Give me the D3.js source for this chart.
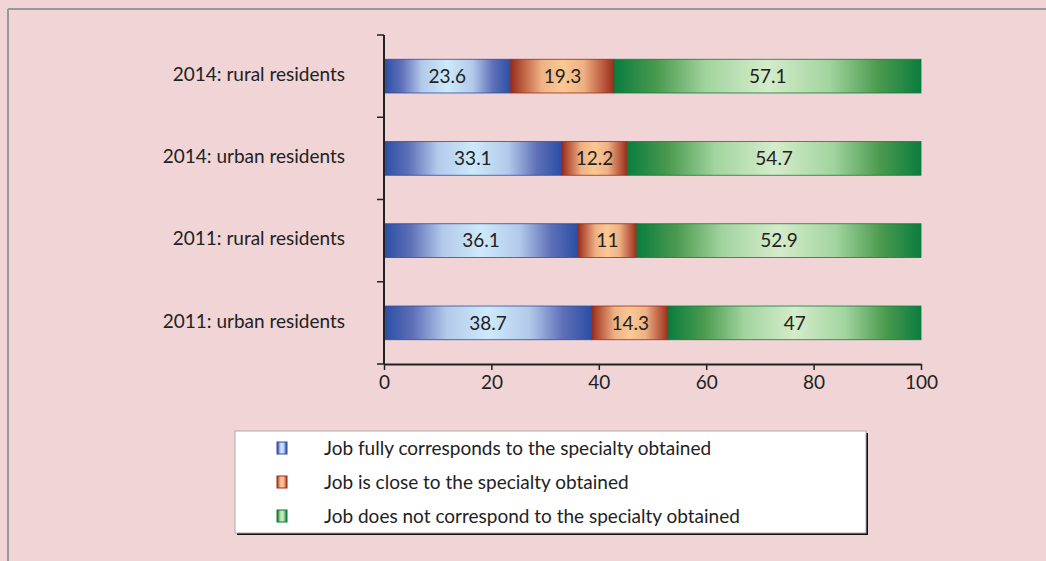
<!DOCTYPE html>
<html>
<head>
<meta charset="utf-8">
<script src="https://cdn.jsdelivr.net/npm/d3@7"></script>
<style>
  body { margin: 0; background: #f0d4d6; }
  text { font-family: Lato, "Open Sans", sans-serif; fill: #222; }
</style>
</head>
<body>
<div id="chart"></div>
<script>
var svgWidth = 1046;
var svgHeight = 561;

// data, top row first
var categories = ["2014: rural residents", "2014: urban residents", "2011: rural residents", "2011: urban residents"];
var seriesNames = [
  "Job fully corresponds to the specialty obtained",
  "Job is close to the specialty obtained",
  "Job does not correspond to the specialty obtained"
];
var fully = [23.6, 33.1, 36.1, 38.7];
var close = [19.3, 12.2, 11, 14.3];
var notCorr = [57.1, 54.7, 52.9, 47];
var xTicks = [0, 20, 40, 60, 80, 100];

// gradient colours: edge, mid, centre
var palettes = [
  { id: "gBlue", stops: ["#2a4ea4", "#5f70b8", "#b3c9ea", "#cdeafb"], edge: "#2a4ea4" },
  { id: "gOrange", stops: ["#982c1c", "#c4694a", "#eeb285", "#fbc892"], edge: "#982c1c" },
  { id: "gGreen", stops: ["#0a7d3e", "#4b9a4f", "#a2d49f", "#d5ecca"], edge: "#0a7d3e" }
];

var fontSize = "19px";

var svg = d3.select("#chart")
  .append("svg")
  .attr("width", svgWidth)
  .attr("height", svgHeight);

var defs = svg.append("defs");
palettes.forEach(function(p) {
  var g = defs.append("linearGradient")
    .attr("id", p.id)
    .attr("x1", "0%").attr("x2", "100%")
    .attr("y1", "0%").attr("y2", "0%");
  var offs = [0, 0.14, 0.3, 0.5, 0.7, 0.86, 1];
  var cols = [p.stops[0], p.stops[1], p.stops[2], p.stops[3], p.stops[2], p.stops[1], p.stops[0]];
  offs.forEach(function(o, i) {
    g.append("stop").attr("offset", o).attr("stop-color", cols[i]);
  });
});

// outer frame (top and left only visible)
svg.append("line").attr("x1", 8).attr("x2", svgWidth).attr("y1", 9).attr("y2", 9)
  .attr("stroke", "#999").attr("stroke-width", 2);
svg.append("line").attr("x1", 8).attr("x2", 8).attr("y1", 9).attr("y2", svgHeight)
  .attr("stroke", "#999").attr("stroke-width", 2);

var x = d3.scaleLinear().domain([0, 100]).range([384, 921]);
var y = d3.scaleBand().domain(categories).range([35, 364])
  .paddingInner(0.59).paddingOuter(0.295);

// stack the series
var rows = categories.map(function(c, i) {
  return { cat: c, values: [fully[i], close[i], notCorr[i]] };
});

var barGroup = svg.append("g");
rows.forEach(function(r) {
  var start = 0;
  r.values.forEach(function(v, k) {
    var x0 = x(start), x1 = x(start + v);
    barGroup.append("rect")
      .attr("x", x0)
      .attr("y", y(r.cat))
      .attr("width", x1 - x0)
      .attr("height", y.bandwidth())
      .attr("fill", "url(#" + palettes[k].id + ")")
      .attr("stroke", palettes[k].edge)
      .attr("stroke-width", 0.8);
    barGroup.append("text")
      .attr("x", (x0 + x1) / 2)
      .attr("y", y(r.cat) + y.bandwidth() / 2)
      .attr("dy", "0.35em")
      .attr("text-anchor", "middle")
      .attr("font-size", fontSize)
      .text(v);
    start += v;
  });
});

// y axis with ticks between the bands
var yTop = y.range()[0], yBottom = y.range()[1];
svg.append("line").attr("x1", 384).attr("x2", 384).attr("y1", yTop).attr("y2", yBottom)
  .attr("stroke", "#222").attr("stroke-width", 2);
var yTickPos = categories.map(function(c) { return y(c) - y.step() * y.paddingInner() / 2; });
yTickPos.push(yBottom);
svg.selectAll(".ytick").data(yTickPos).enter().append("line")
  .attr("x1", 377).attr("x2", 384)
  .attr("y1", d => d).attr("y2", d => d)
  .attr("stroke", "#222").attr("stroke-width", 1.5);

svg.selectAll(".ylab").data(categories).enter().append("text")
  .attr("x", 345)
  .attr("y", d => y(d) + y.bandwidth() / 2 - 2)
  .attr("dy", "0.35em")
  .attr("text-anchor", "end")
  .attr("font-size", fontSize)
  .text(d => d);

// x axis
var xAxis = d3.axisBottom(x).tickValues(xTicks).tickSize(6).tickSizeOuter(0).tickPadding(6);
var xg = svg.append("g")
  .attr("transform", "translate(0," + yBottom + ")")
  .call(xAxis);
xg.select(".domain").attr("stroke", "#222").attr("stroke-width", 2);
xg.selectAll(".tick line").attr("stroke", "#222").attr("stroke-width", 1.5);
xg.selectAll(".tick text").attr("font-size", fontSize).attr("fill", "#222")
  .style("font-family", "Lato, 'Open Sans', sans-serif");

// legend
var legend = svg.append("g");
legend.append("rect").attr("x", 237).attr("y", 433).attr("width", 631).attr("height", 102)
  .attr("fill", "#111");
legend.append("rect").attr("x", 235).attr("y", 431).attr("width", 631).attr("height", 102)
  .attr("fill", "#fff").attr("stroke", "#b0aaaa").attr("stroke-width", 1);

seriesNames.forEach(function(name, k) {
  var cy = 448 + k * 34;
  legend.append("rect")
    .attr("x", 277).attr("y", cy - 6)
    .attr("width", 10).attr("height", 12)
    .attr("fill", "url(#" + palettes[k].id + ")")
    .attr("stroke", palettes[k].edge).attr("stroke-width", 1);
  legend.append("text")
    .attr("x", 324).attr("y", cy)
    .attr("dy", "0.35em")
    .attr("font-size", fontSize)
    .text(name);
});
</script>
</body>
</html>
